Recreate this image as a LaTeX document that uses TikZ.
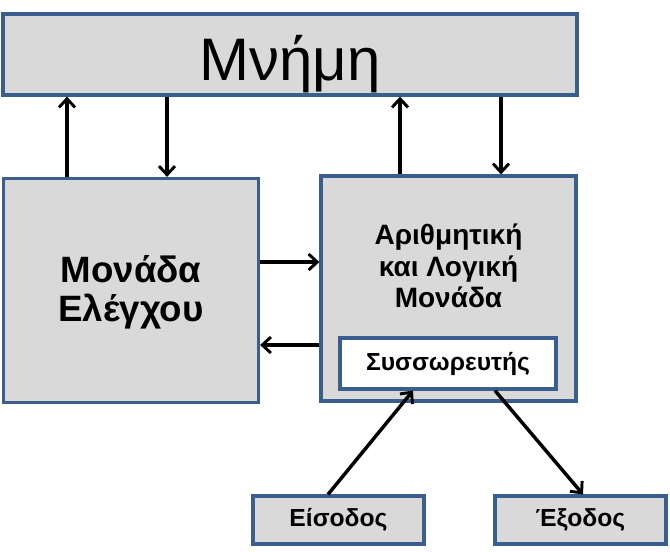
\documentclass[tikz,border=0pt]{standalone}
\usepackage{fontspec}
\setmainfont{Liberation Sans}
\usetikzlibrary{arrows.meta}
\definecolor{boxfill}{HTML}{D9D9D9}
\definecolor{boxline}{HTML}{3A5F8E}
\tikzset{
  blk/.style={draw=boxline, line width=2.4pt, fill=boxfill, rectangle, inner sep=0pt, align=center},
  whiteblk/.style={blk, fill=white},
  txt/.style={inner sep=0pt, align=center},
  arr/.style={draw=black, line width=2.6pt, -{Straight Barb[length=6.5pt,width=12pt,line width=2.2pt]}},
}
\begin{document}
\begin{tikzpicture}[x=0.75pt,y=-0.75pt]
\useasboundingbox (0,0) rectangle (670,551);
\node[blk, minimum width=574*0.75pt, minimum height=81*0.75pt] (mem) at (290,54.5) {};
\node[txt, font=\fontsize{45}{50}\selectfont, anchor=base] (memtxt) at (290,80) {Μνήμη};
\node[blk, minimum width=255*0.75pt, minimum height=224*0.75pt] (ctrl) at (131,290.5) {};
\node[txt, font=\fontsize{27.5}{29.5}\selectfont\bfseries] (ctrltxt) at (131,292) {Μονάδα\\Ελέγχου};
\node[blk, minimum width=255*0.75pt, minimum height=225*0.75pt] (alu) at (448.5,288.5) {};
\node[txt, font=\fontsize{21}{23.5}\selectfont\bfseries] (alutxt) at (448.5,266) {Αριθμητική\\και Λογική\\Μονάδα};
\node[whiteblk, minimum width=216*0.75pt, minimum height=51*0.75pt, font=\fontsize{18.5}{20}\selectfont\bfseries] (acc) at (448,363.5) {Συσσωρευτής};
\node[blk, minimum width=171*0.75pt, minimum height=48*0.75pt, font=\fontsize{18.5}{20}\selectfont\bfseries] (in) at (338.5,520) {Είσοδος};
\node[blk, minimum width=171*0.75pt, minimum height=48*0.75pt, font=\fontsize{18.5}{20}\selectfont\bfseries] (out) at (580.5,520) {Έξοδος};
\coordinate (x1) at (67,0);
\coordinate (x2) at (167,0);
\coordinate (x3) at (400,0);
\coordinate (x4) at (501,0);
\coordinate (y1) at (0,262);
\coordinate (y2) at (0,345);
\coordinate (xi1) at (328,0);
\coordinate (xi2) at (413,0);
\coordinate (xo1) at (495,0);
\coordinate (xo2) at (583,0);
\draw[arr] (ctrl.north -| x1) -- (mem.south -| x1);
\draw[arr] (mem.south -| x2) -- (ctrl.north -| x2);
\draw[arr] (alu.north -| x3) -- (mem.south -| x3);
\draw[arr] (mem.south -| x4) -- (alu.north -| x4);
\draw[arr] (ctrl.east |- y1) -- (alu.west |- y1);
\draw[arr] (alu.west |- y2) -- (ctrl.east |- y2);
\draw[arr] (in.north -| xi1) -- (acc.south -| xi2);
\draw[arr] (acc.south -| xo1) -- (out.north -| xo2);
\end{tikzpicture}
\end{document}
